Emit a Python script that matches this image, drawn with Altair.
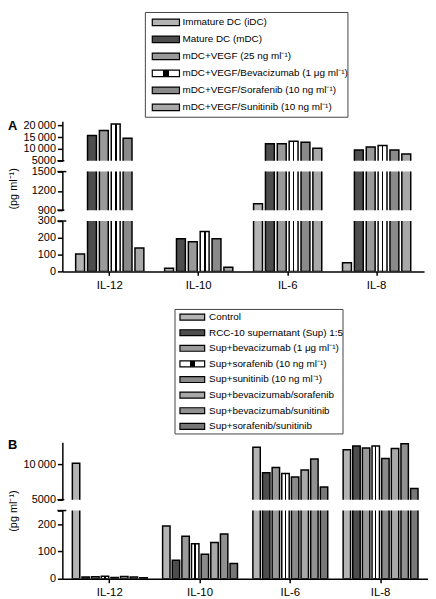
import altair as alt
import pandas as pd

FONT = "Liberation Sans"

# ---------------- data ----------------
cytokines = ["IL-12", "IL-10", "IL-6", "IL-8"]

series_a = [
    "Immature DC (iDC)",
    "Mature DC (mDC)",
    "mDC+VEGF (25 ng ml\u207b\u00b9)",
    "mDC+VEGF/Bevacizumab (1 \u03bcg ml\u207b\u00b9)",
    "mDC+VEGF/Sorafenib (10 ng ml\u207b\u00b9)",
    "mDC+VEGF/Sunitinib (10 ng ml\u207b\u00b9)",
]
a_idc = [104, 19, 1000, 51]
a_mdc = [15700, 194, 12200, 9560]
a_vegf = [17800, 176, 12200, 10750]
a_bev = [20500, 237, 13200, 11470]
a_sor = [14500, 194, 12800, 9560]
a_sun = [139, 25, 10300, 7800]
values_a = [a_idc, a_mdc, a_vegf, a_bev, a_sor, a_sun]

series_b = [
    "Control",
    "RCC-10 supernatant (Sup) 1:5",
    "Sup+bevacizumab (1 \u03bcg ml\u207b\u00b9)",
    "Sup+sorafenib (10 ng ml\u207b\u00b9)",
    "Sup+sunitinib (10 ng ml\u207b\u00b9)",
    "Sup+bevacizumab/sorafenib",
    "Sup+bevacizumab/sunitinib",
    "Sup+sorafenib/sunitinib",
]
b_control = [10140, 193, 12400, 12040]
b_sup = [6, 68, 8800, 12600]
b_bev = [7, 156, 9540, 12300]
b_sor = [9, 128, 8700, 12600]
b_sun = [5, 90, 8200, 10830]
b_bev_sor = [8, 133, 9200, 12220]
b_bev_sun = [6, 164, 10740, 12900]
b_sor_sun = [4, 56, 6800, 6570]
values_b = [b_control, b_sup, b_bev, b_sor, b_sun, b_bev_sor, b_bev_sun, b_sor_sun]

ticks_a_top = [5000, 10000, 15000, 20000]
ticks_a_mid = [900, 1200, 1500]
ticks_a_low = [0, 100, 200, 300]
ticks_b_top = [5000, 10000]
ticks_b_low = [0, 100, 200, 250]

Y_TITLE = "(pg ml\u207b\u00b9)"

# ---------------- styles ----------------
VLINES = {
    "gradient": "linear", "x1": 0, "y1": 0, "x2": 1, "y2": 0,
    "stops": [
        {"offset": 0, "color": "white"},
        {"offset": 0.4, "color": "white"},
        {"offset": 0.4, "color": "black"},
        {"offset": 0.6, "color": "black"},
        {"offset": 0.6, "color": "white"},
        {"offset": 1, "color": "white"},
    ],
}
fills_a = ["#b4b4b4", "#4d4d4d", "#9a9a9a", VLINES, "#8a8a8a", "#a8a8a8"]
fills_b = ["#b4b4b4", "#4d4d4d", "#9a9a9a", VLINES, "#8a8a8a", "#a8a8a8", "#909090", "#777777"]

LABEL_EXPR = ("datum.value >= 10000 ? replace(format(datum.value, ','), ',', '\u2009') : "
              "(datum.value == 250 ? '' : format(datum.value, 'd'))")

SP = 11  # spacing between stacked pieces


def segment(series, values, fills, lo, hi, height, width, xscale, offscale, yticks,
            bottom=False, title=None, title_y=None, letter=None, letter_y=0,
            break_top=False, break_bottom=False):
    yaxis_kw = dict(values=yticks, labelExpr=LABEL_EXPR, tickSize=5, labelPadding=2,
                    labelFontSize=11)
    if title:
        yaxis_kw.update(title=title, titleX=-44, titleY=title_y, titleFontSize=11,
                        titleFontWeight="normal")
    else:
        yaxis_kw.update(title=None)
    yaxis = alt.Axis(**yaxis_kw)
    if bottom:
        xenc = alt.X("cytokine:N", scale=xscale,
                     axis=alt.Axis(title=None, labelAngle=0, tickSize=4, labelPadding=4,
                                   labelFontSize=11.5))
    else:
        xenc = alt.X("cytokine:N", scale=xscale, axis=None)
    layers = []
    for s, vals, f in zip(series, values, fills):
        df = pd.DataFrame({"cytokine": cytokines, "series": s, "value": vals})
        layers.append(
            alt.Chart(df).mark_bar(fill=f, stroke="black", strokeWidth=1.5, clip=True).encode(
                x=xenc,
                xOffset=alt.XOffset("series:N", scale=offscale),
                y=alt.Y("value:Q", scale=alt.Scale(domain=[lo, hi], zero=False, nice=False),
                        axis=yaxis),
                y2=alt.Y2Datum(0),
            )
        )
    # short horizontal strokes marking the axis break
    one = pd.DataFrame({"a": [0]})
    if break_top:
        layers.append(alt.Chart(one).mark_rule(color="black", strokeWidth=1.5).encode(
            x=alt.value(-5), x2=alt.value(4), y=alt.value(0)))
    if break_bottom:
        layers.append(alt.Chart(one).mark_rule(color="black", strokeWidth=1.5).encode(
            x=alt.value(-5), x2=alt.value(2), y=alt.value(height)))
    if letter:
        layers.append(
            alt.Chart(pd.DataFrame({"t": [letter]})).mark_text(
                align="left", baseline="middle", fontSize=13, fontWeight="bold", font=FONT
            ).encode(text="t:N", x=alt.value(-55), y=alt.value(letter_y))
        )
    return alt.layer(*layers).properties(width=width, height=height)


def legend(series, fills, width, box_top, box_h, gap_after, bx0, bx1, sx0, sx1, tx, pi, po,
           fsize):
    # layout height is shorter than the drawn box so the following piece sits gap_after below it
    layout_h = box_top + box_h + gap_after - SP
    yscale = alt.Scale(domain=series, range=[box_top, box_top + box_h],
                       paddingInner=pi, paddingOuter=po)
    layers = [
        alt.Chart(pd.DataFrame({"a": [0]})).mark_rect(
            fill="white", stroke="#444444", strokeWidth=1
        ).encode(x=alt.value(bx0), x2=alt.value(bx1), y=alt.value(box_top),
                 y2=alt.value(box_top + box_h))
    ]
    for s, f in zip(series, fills):
        layers.append(
            alt.Chart(pd.DataFrame({"series": [s]})).mark_bar(
                fill=f, stroke="black", strokeWidth=1.2
            ).encode(y=alt.Y("series:N", scale=yscale, axis=None),
                     x=alt.value(sx0), x2=alt.value(sx1))
        )
    layers.append(
        alt.Chart(pd.DataFrame({"series": series})).mark_text(
            align="left", baseline="middle", fontSize=fsize, font=FONT, color="black"
        ).encode(y=alt.Y("series:N", scale=yscale, axis=None), x=alt.value(tx), text="series:N")
    )
    return alt.layer(*layers).properties(width=width, height=layout_h)


# ---------------- panel A ----------------
WA = 366
xs_a = alt.Scale(domain=cytokines, paddingInner=0.2, paddingOuter=0.133)
off_a = alt.Scale(domain=series_a, range=[0, 72], paddingInner=0.25, paddingOuter=0.125)
legA = legend(series_a, fills_a, WA, 0, 106, 4, 84, 289, 91, 118.5, 121.5, 0.62, 0.39, 10)
segA1 = segment(series_a, values_a, fills_a, 5000, 21700, 40, WA, xs_a, off_a, ticks_a_top,
                letter="A", letter_y=5, break_bottom=True)
segA2 = segment(series_a, values_a, fills_a, 900, 1500, 39, WA, xs_a, off_a, ticks_a_mid,
                title=Y_TITLE, title_y=17, break_top=True, break_bottom=True)
segA3 = segment(series_a, values_a, fills_a, 0, 300, 51, WA, xs_a, off_a, ticks_a_low,
                bottom=True, break_top=True)

# ---------------- panel B ----------------
WB = 370
xs_b = alt.Scale(domain=cytokines, paddingInner=0.146, paddingOuter=0.0985)
off_b = alt.Scale(domain=series_b, range=[0, 78], paddingInner=0.23, paddingOuter=0.115)
legB = legend(series_b, fills_b, WB, 27.5, 126, 8.5, 114, 284, 119, 144, 148.5, 0.62, 0.3, 10)
segB1 = segment(series_b, values_b, fills_b, 5000, 13100, 58, WB, xs_b, off_b, ticks_b_top,
                letter="B", letter_y=2.5, break_bottom=True)
segB2 = segment(series_b, values_b, fills_b, 0, 250, 69, WB, xs_b, off_b, ticks_b_low,
                bottom=True, title=Y_TITLE, title_y=0, break_top=True)

chart = alt.vconcat(legA, segA1, segA2, segA3, legB, segB1, segB2,
                    spacing=SP, bounds="flush").resolve_scale(
    xOffset="independent"
).properties(
    padding=0, background="white"
).configure_view(stroke=None).configure_axis(
    labelFont=FONT, titleFont=FONT, labelColor="black", titleColor="black",
    domainColor="black", tickColor="black", domainWidth=1.5, tickWidth=1.5, grid=False
)

chart.save("out.html", embed_options={"renderer": "svg", "actions": False})
